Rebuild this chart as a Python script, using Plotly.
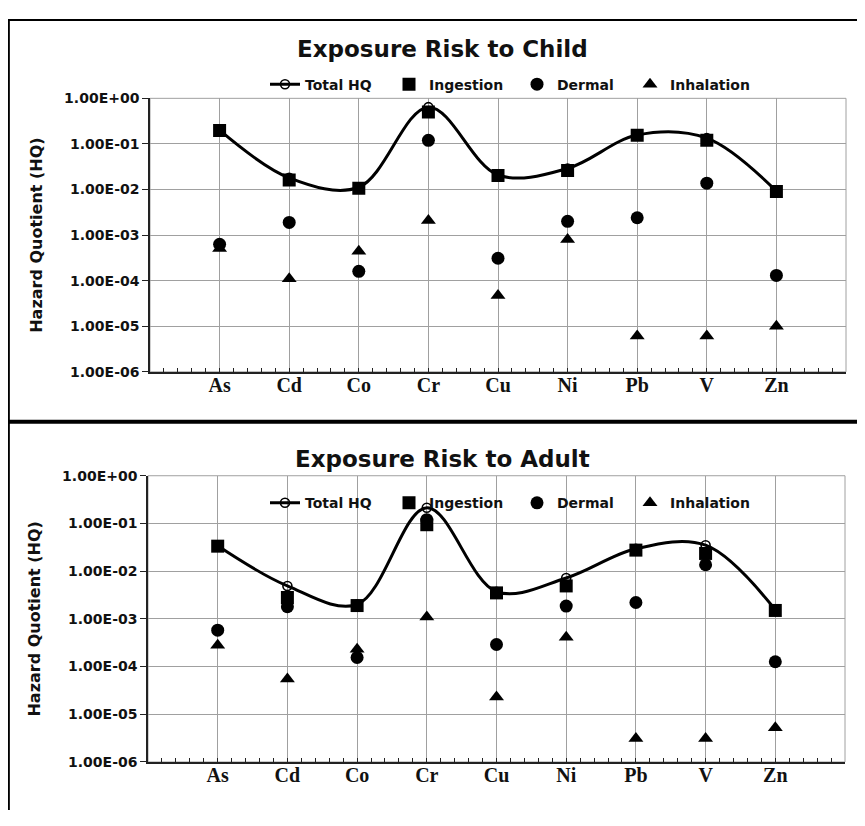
import numpy as np
import plotly.graph_objects as go

# ---------------- data ----------------
metals = ["As", "Cd", "Co", "Cr", "Cu", "Ni", "Pb", "V", "Zn"]

child_total      = [0.20, 0.0180, 0.0112, 0.64, 0.0208, 0.0290, 0.157, 0.134, 0.0092]
child_ingestion  = [0.197, 0.0162, 0.0106, 0.50, 0.0204, 0.0260, 0.154, 0.120, 0.0090]
child_dermal     = [6.3e-4, 1.9e-3, 1.6e-4, 0.12, 3.1e-4, 2.0e-3, 2.4e-3, 0.0138, 1.3e-4]
child_inhalation = [5.1e-4, 1.1e-4, 4.4e-4, 2.1e-3, 4.7e-5, 8.0e-4, 6.1e-6, 6.1e-6, 1.0e-5]

adult_total      = [0.0340, 4.9e-3, 2.0e-3, 0.214, 3.7e-3, 7.2e-3, 0.0295, 0.0350, 1.55e-3]
adult_ingestion  = [0.0334, 2.8e-3, 1.9e-3, 0.094, 3.5e-3, 4.9e-3, 0.0276, 0.0235, 1.5e-3]
adult_dermal     = [5.8e-4, 1.8e-3, 1.55e-4, 0.12, 2.9e-4, 1.85e-3, 2.2e-3, 0.0136, 1.26e-4]
adult_inhalation = [2.8e-4, 5.5e-5, 2.3e-4, 1.1e-3, 2.3e-5, 4.1e-4, 3.1e-6, 3.1e-6, 5.2e-6]

series_names = ["Total HQ", "Ingestion", "Dermal", "Inhalation"]
y_tickvals = [1e-6, 1e-5, 1e-4, 1e-3, 1e-2, 1e-1, 1e0]
y_ticktext = ["1.00E-06", "1.00E-05", "1.00E-04", "1.00E-03", "1.00E-02", "1.00E-01", "1.00E+00"]
titles = ["Exposure Risk to Child", "Exposure Risk to Adult"]

# ---------------- figure ----------------
# the page body keeps its default 8px margin, so the figure is sized to fit the 865x826 window
OFF = 8
W, H = 865 - 2 * OFF, 826 - 2 * OFF
xpos = list(range(1, len(metals) + 1))
SANS = "DejaVu Sans"

fig = go.Figure()

legend_widths = [79, 83, 68, 84]
symbols = ["circle-open", "square", "circle", "triangle-up"]
sizes = [9, 13, 13, 13]

def add_panel(vals, xa, ya, leg):
    for i, (name, v) in enumerate(zip(series_names, vals)):
        if i == 0:
            tr = go.Scatter(x=xpos, y=v, mode="lines+markers", name=name,
                            line=dict(color="black", width=3, shape="spline", smoothing=1),
                            marker=dict(symbol=symbols[i], size=sizes[i], color="black",
                                        line=dict(width=1.6, color="black")))
        else:
            tr = go.Scatter(x=xpos, y=v, mode="markers", name=name,
                            marker=dict(symbol=symbols[i], size=sizes[i], color="black"))
        tr.update(xaxis=xa, yaxis=ya, legend=leg, legendwidth=legend_widths[i])
        fig.add_trace(tr)

add_panel([child_total, child_ingestion, child_dermal, child_inhalation], "x", "y", "legend")
add_panel([adult_total, adult_ingestion, adult_dermal, adult_inhalation], "x2", "y2", "legend2")

def px_x(p):
    return min(max((p - OFF) / W, 0.0), 1.0)

def px_y(p):
    return min(max(1 - (p - OFF) / H, 0.0), 1.0)

xaxis_common = dict(
    range=[0, len(metals) + 1], tickmode="array", tickvals=xpos, ticktext=metals,
    showgrid=True, gridcolor="#a0a0a0", gridwidth=1,
    showline=True, linecolor="#222222", linewidth=1.5,
    ticks="inside", ticklen=4, tickcolor="#222222",
    minor=dict(ticks="inside", ticklen=4, dtick=0.2, tick0=0, tickcolor="#222222", showgrid=False),
    tickfont=dict(family="Liberation Serif", size=20, weight="bold", color="#111111"),
    ticklabelstandoff=-6,
    zeroline=False, fixedrange=True,
)
yaxis_common = dict(
    type="log", range=[-6, 0], tickmode="array", tickvals=y_tickvals, ticktext=y_ticktext,
    showgrid=True, gridcolor="#a0a0a0", gridwidth=1,
    showline=True, linecolor="#222222", linewidth=1.5,
    ticks="outside", ticklen=6, tickcolor="#222222",
    tickfont=dict(family=SANS, size=14, weight="bold", color="#111111"),
    title=dict(text="Hazard Quotient (HQ)", font=dict(family=SANS, size=16, weight="bold", color="#111111"),
               standoff=18),
    zeroline=False, fixedrange=True,
)

leg_font = dict(family=SANS, size=14, weight="bold", color="#111111")
fig.update_layout(
    width=W, height=H, margin=dict(l=0, r=0, t=0, b=0),
    paper_bgcolor="white", plot_bgcolor="white", showlegend=True,
    xaxis=dict(xaxis_common, domain=[px_x(150), px_x(846)], anchor="y"),
    yaxis=dict(yaxis_common, domain=[px_y(371), px_y(92)], anchor="x"),
    xaxis2=dict(xaxis_common, domain=[px_x(148), px_x(845)], anchor="y2"),
    yaxis2=dict(yaxis_common, domain=[px_y(769), px_y(477)], anchor="x2"),
    legend=dict(orientation="h", x=px_x(265), y=px_y(78), xanchor="left", yanchor="middle",
                font=leg_font, bgcolor="rgba(0,0,0,0)", borderwidth=0),
    legend2=dict(orientation="h", x=px_x(265), y=px_y(505), xanchor="left", yanchor="middle",
                 font=leg_font, bgcolor="rgba(0,0,0,0)", borderwidth=0),
)

# panel titles
for t, yc in zip(titles, [42, 460]):
    fig.add_annotation(text=t, xref="paper", yref="paper", x=px_x(442), y=px_y(yc),
                       xanchor="center", yanchor="middle", showarrow=False,
                       font=dict(family=SANS, size=23, weight="bold", color="#111111"))

# plot-area frames (gray top/right edges)
for xr, yr in [("x domain", "y domain"), ("x2 domain", "y2 domain")]:
    fig.add_shape(type="rect", xref=xr, yref=yr, x0=0, x1=1, y0=0, y1=1,
                  line=dict(color="#a0a0a0", width=1), layer="below")

# outer panel borders
fig.add_shape(type="line", xref="paper", yref="paper", x0=0, x1=1, y0=px_y(12), y1=px_y(12),
              line=dict(color="black", width=2))
fig.add_shape(type="line", xref="paper", yref="paper", x0=0.001, x1=0.001, y0=px_y(12), y1=0,
              line=dict(color="black", width=2))
fig.add_shape(type="line", xref="paper", yref="paper", x0=0, x1=1, y0=px_y(422), y1=px_y(422),
              line=dict(color="black", width=4))

fig.write_html("out.html", config={"displayModeBar": False})
